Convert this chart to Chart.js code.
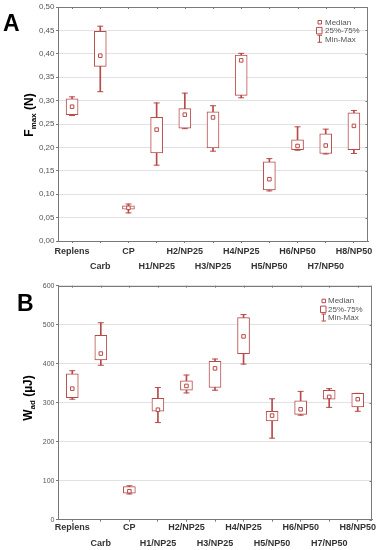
<!DOCTYPE html>
<html><head><meta charset="utf-8">
<script src="https://cdn.jsdelivr.net/npm/chart.js@4/dist/chart.umd.min.js"></script>
<style>
html,body{margin:0;padding:0;background:#fff;width:379px;height:550px;overflow:hidden;}
canvas{position:absolute;left:0;}
#cA{top:0}
#cB{top:275px}
.lab{position:absolute;font:bold 23px "Liberation Sans",Arial,sans-serif;line-height:23px;color:#000}
.yt{position:absolute;font:bold 12px "Liberation Sans",Arial,sans-serif;white-space:nowrap;transform:translate(-50%,-50%) rotate(-90deg);color:#000;line-height:12px}
.yt sub{font-size:8px;vertical-align:-3px;line-height:0}
</style></head><body>
<canvas id="cA" width="379" height="275"></canvas>
<canvas id="cB" width="379" height="275"></canvas>
<div class="lab" style="left:3px;top:12px">A</div>
<div class="lab" style="left:17px;top:292px">B</div>
<div class="yt" style="left:29px;top:115px">F<sub>max</sub> (N)</div>
<div class="yt" style="left:28px;top:398px">W<sub>ad</sub> (µJ)</div>
<script>
// ---- data ----
const categories = ['Replens','Carb','CP','H1/NP25','H2/NP25','H3/NP25','H4/NP25','H5/NP50','H6/NP50','H7/NP50','H8/NP50'];

const fmaxMin    = [0.268, 0.319, 0.060, 0.162, 0.240, 0.192, 0.306, 0.107, 0.194, 0.186, 0.187];
const fmaxQ1     = [0.270, 0.373, 0.068, 0.188, 0.241, 0.199, 0.311, 0.109, 0.195, 0.187, 0.195];
const fmaxMedian = [0.287, 0.396, 0.071, 0.238, 0.270, 0.264, 0.386, 0.132, 0.203, 0.204, 0.246];
const fmaxQ3     = [0.304, 0.448, 0.075, 0.264, 0.283, 0.276, 0.397, 0.169, 0.216, 0.229, 0.274];
const fmaxMax    = [0.308, 0.459, 0.079, 0.295, 0.316, 0.289, 0.401, 0.176, 0.244, 0.239, 0.279];
const fmaxTicks  = ['0,00','0,05','0,10','0,15','0,20','0,25','0,30','0,35','0,40','0,45','0,50'];

const wadMin    = [309, 396, 66, 249, 325, 332, 399, 209, 268, 288, 278];
const wadQ1     = [313, 410, 68, 278, 332, 339, 426, 253, 270, 309, 289];
const wadMedian = [336, 426, 73, 282, 343, 388, 470, 267, 283, 315, 309];
const wadQ3     = [374, 473, 85, 311, 356, 406, 518, 278, 305, 332, 324];
const wadMax    = [382, 505, 87, 339, 371, 412, 526, 310, 329, 336, 324];
const wadTicks  = ['0','100','200','300','400','500','600'];

const legendLabels = ['Median','25%-75%','Min-Max'];

// ---- drawing ----
const RED = '#b84a4a';
const FONT = '"Liberation Sans", Arial, sans-serif';

const framePlugin = {
  id: 'frame',
  afterDraw(chart, args, opts) {
    const ctx = chart.ctx, a = chart.chartArea;
    ctx.save();
    ctx.strokeStyle = '#7a7a7a'; ctx.lineWidth = 1;
    ctx.beginPath();
    ctx.moveTo(a.left, Math.round(a.top) + 0.5); ctx.lineTo(a.right, Math.round(a.top) + 0.5);
    ctx.moveTo(Math.round(a.right) - 0.5, a.top); ctx.lineTo(Math.round(a.right) - 0.5, a.bottom);
    // inner top ticks
    const xs = chart.scales.x;
    for (let i = 0; i < categories.length; i++) {
      const px = Math.round(xs.getPixelForTick(i)) + 0.5;
      ctx.moveTo(px, a.top); ctx.lineTo(px, a.top + 2);
    }
    // inner right ticks
    const ys = chart.scales.y;
    ys.ticks.forEach((t, i) => {
      const py = Math.round(ys.getPixelForTick(i)) + 0.5;
      ctx.moveTo(a.right, py); ctx.lineTo(a.right - 2.5, py);
    });
    ctx.stroke();

    // legend
    const ix = a.right - opts.dx, tx = a.right - opts.tx;
    const r0 = a.top + 15, dr = 8.4;
    ctx.strokeStyle = RED; ctx.fillStyle = '#fff';
    // median square
    ctx.beginPath(); ctx.rect(ix - 1.5, r0 - 1.5, 3.5, 3.5); ctx.fill(); ctx.stroke();
    // box
    ctx.beginPath(); ctx.rect(ix - 3, r0 + dr - 3, 5.5, 6.5); ctx.stroke();
    // whisker I
    ctx.beginPath();
    const y2 = r0 + 2 * dr;
    ctx.moveTo(ix, y2 - 3.5); ctx.lineTo(ix, y2 + 3.5);
    ctx.moveTo(ix - 2, y2 - 3.5); ctx.lineTo(ix + 2.5, y2 - 3.5);
    ctx.moveTo(ix - 2, y2 + 3.5); ctx.lineTo(ix + 2.5, y2 + 3.5);
    ctx.stroke();
    ctx.fillStyle = '#555'; ctx.font = '8px ' + FONT; ctx.textBaseline = 'middle'; ctx.textAlign = 'left';
    legendLabels.forEach((t, i) => ctx.fillText(t, tx, r0 + i * dr + 0.5));
    ctx.restore();
  }
};

function boxChart(id, o) {
  const labels = categories.map((c, i) => i % 2 === 0 ? c : ['', c]);
  const whisk = o.min.map((v, i) => [v, o.max[i]]);
  const box = o.q1.map((v, i) => [v, o.q3[i]]);
  return new Chart(document.getElementById(id), {
    type: 'bar',
    data: { labels, datasets: [
      { type: 'bar', data: whisk, backgroundColor: RED, borderWidth: 0, barThickness: 1, grouped: false, order: 4 },
      { type: 'bar', data: box, backgroundColor: '#fff', borderColor: RED, borderWidth: 1, borderSkipped: false, barThickness: 12, grouped: false, order: 3 },
      { type: 'line', data: o.max, showLine: false, pointStyle: 'line', pointRadius: 3, pointBorderColor: RED, pointBorderWidth: 1, order: 2 },
      { type: 'line', data: o.min, showLine: false, pointStyle: 'line', pointRadius: 3, pointBorderColor: RED, pointBorderWidth: 1, order: 2 },
      { type: 'line', data: o.median, showLine: false, pointStyle: 'rect', pointRadius: 2.5, pointBackgroundColor: '#fff', pointBorderColor: RED, pointBorderWidth: 1, order: 1 }
    ]},
    options: {
      responsive: false, animation: false, devicePixelRatio: 1,
      layout: { padding: { top: o.padTop, right: o.padRight, left: 0, bottom: 0 } },
      plugins: { legend: { display: false }, tooltip: { enabled: false }, frame: { dx: 48.5, tx: o.tx } },
      scales: {
        x: {
          type: 'category', offset: true,
          grid: { offset: false, drawOnChartArea: false, drawTicks: true, tickLength: 2, tickColor: '#777' },
          border: { color: '#777' },
          ticks: { autoSkip: false, maxRotation: 0, minRotation: 0, padding: o.xPad, color: '#333',
                   font: { family: FONT, size: 9, weight: 'bold', lineHeight: o.xLH } },
          afterFit: s => { s.height = o.xh; }
        },
        y: {
          min: o.yMin, max: o.yMax,
          grid: { color: '#e2e2e2', tickLength: 2, tickColor: '#777' },
          border: { color: '#777' },
          ticks: { stepSize: o.step, padding: 1.5, color: '#555', font: { family: FONT, size: o.yFont },
                   callback: (v, i) => o.tickLabels[i] },
          afterFit: s => { s.width = 58; }
        }
      }
    },
    plugins: [framePlugin]
  });
}

boxChart('cA', { min: fmaxMin, q1: fmaxQ1, median: fmaxMedian, q3: fmaxQ3, max: fmaxMax,
  tickLabels: fmaxTicks, yMin: 0, yMax: 0.5, step: 0.05, yFont: 8,
  padTop: 7, padRight: 11, xh: 34, xPad: 1.5, xLH: 14.5 / 9, tx: 43 });
boxChart('cB', { min: wadMin, q1: wadQ1, median: wadMedian, q3: wadQ3, max: wadMax,
  tickLabels: wadTicks, yMin: 0, yMax: 600, step: 100, yFont: 7,
  padTop: 10.7, padRight: 7, xh: 30.3, xPad: -2, xLH: 16 / 9, tx: 44 });
</script>
</body></html>
